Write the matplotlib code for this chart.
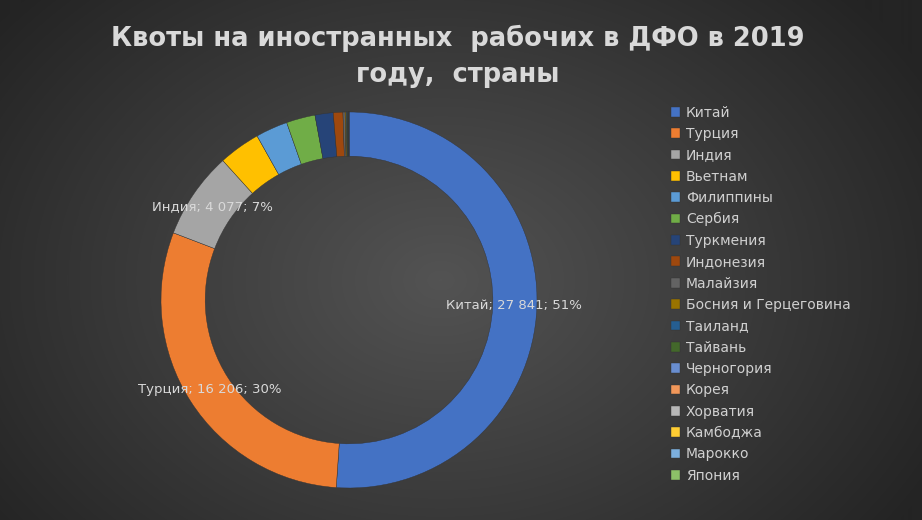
import numpy as np
import matplotlib
matplotlib.use("Agg")
from matplotlib import pyplot as plt
from matplotlib.colors import LinearSegmentedColormap

# Data
countries = ["Китай", "Турция", "Индия", "Вьетнам", "Филиппины", "Сербия",
             "Туркмения", "Индонезия", "Малайзия", "Босния и Герцеговина",
             "Таиланд", "Тайвань", "Черногория", "Корея", "Хорватия",
             "Камбоджа", "Марокко", "Япония"]
quotas = [27841, 16206, 4077, 1950, 1500, 1350, 850, 450, 100, 60,
          40, 30, 20, 10, 10, 5, 3, 2]
labelled = ["Китай", "Турция", "Индия"]
colors = ["#4472C4", "#ED7D31", "#A5A5A5", "#FFC000", "#5B9BD5", "#70AD47",
          "#264478", "#9E480E", "#636363", "#997300", "#255E91", "#43682B",
          "#698ED0", "#F1975A", "#B7B7B7", "#FFCD33", "#7CAFDD", "#8CC168"]

W, H = 922, 520
fig = plt.figure(figsize=(W / 100, H / 100), dpi=100)

# Radial dark background
bg = fig.add_axes([0, 0, 1, 1], zorder=0)
yy, xx = np.mgrid[0:H, 0:W]
r = np.sqrt(((xx - 440) / 560.0) ** 2 + ((yy - 280) / 420.0) ** 2)
cmap = LinearSegmentedColormap.from_list("bg", ["#535353", "#3c3c3c", "#242424"])
bg.imshow(np.clip(r, 0, 1), cmap=cmap, vmin=0, vmax=1, aspect="auto",
          extent=[0, W, H, 0])
bg.axis("off")

# Donut
cx, cy, R = 349, 300, 188
ax = fig.add_axes([(cx - R) / W, (H - cy - R) / H, 2 * R / W, 2 * R / H], zorder=1)
wedges, _ = ax.pie(quotas, colors=colors, startangle=90, counterclock=False,
                   radius=1.0, wedgeprops=dict(width=0.235, edgecolor="#333333",
                                               linewidth=0.3))
ax.set_xlim(-1, 1)
ax.set_ylim(-1, 1)
ax.set_aspect("equal")
ax.axis("off")

total = sum(quotas)
for w, name, v in zip(wedges, countries, quotas):
    if name not in labelled:
        continue
    ang = np.deg2rad((w.theta1 + w.theta2) / 2)
    x, y = 0.88 * np.cos(ang), 0.88 * np.sin(ang)
    txt = f"{name}; {v:,}".replace(",", " ") + f"; {round(100 * v / total)}%"
    ax.text(x, y, txt, ha="center", va="center", fontsize=9.5, color="#d9d9d9",
            family="DejaVu Sans")

fig.text(0.497, 0.927, "Квоты на иностранных  рабочих в ДФО в 2019",
         ha="center", va="center", fontsize=18.5, fontweight="bold", color="#d9d9d9")
fig.text(0.497, 0.855, "году,  страны",
         ha="center", va="center", fontsize=18.5, fontweight="bold", color="#d9d9d9")

leg = fig.legend(wedges, countries, loc="upper left",
                 bbox_to_anchor=(665 / W, 1 - 100 / H), frameon=False,
                 fontsize=10, labelcolor="#d0d0d0", handlelength=0.7,
                 handleheight=0.7, handletextpad=0.4, labelspacing=0.53,
                 borderaxespad=0)

fig.savefig("out.png", dpi=100)
